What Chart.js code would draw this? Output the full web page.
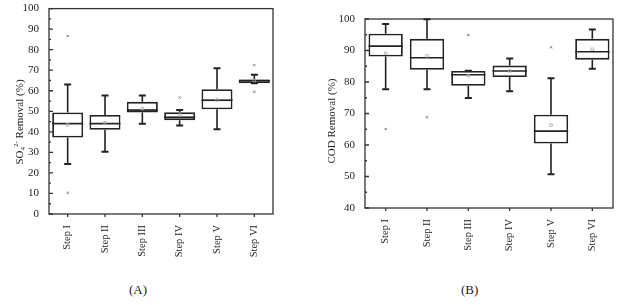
<!DOCTYPE html>
<html>
<head>
<meta charset="utf-8">
<script src="https://cdn.jsdelivr.net/npm/chart.js@4.4.0/dist/chart.umd.min.js"></script>
<style>
  body { margin: 0; background: #fff; width: 618px; height: 305px; position: relative; overflow: hidden; }
  .box { position: absolute; top: 0; }
  .panel { position: absolute; top: 282px; font: 13px "Liberation Serif", serif; color: #222; }
</style>
</head>
<body>
<div class="box" style="left:0;width:310px;height:260px"><canvas id="chartA"></canvas></div>
<div class="box" style="left:310px;width:308px;height:260px"><canvas id="chartB"></canvas></div>
<div class="panel" style="left:129px">(A)</div>
<div class="panel" style="left:461px">(B)</div>
<script>
// 공통 카테고리
const labels = ['Step I', 'Step II', 'Step III', 'Step IV', 'Step V', 'Step VI'];

// (A) SO4 제거율
const so4Min = [24.4, 30.3, 43.9, 43.1, 41.3, 63.6];
const so4Q1 = [37.2, 41.0, 49.4, 45.7, 51.0, 63.6];
const so4Median = [44.0, 44.0, 50.6, 47.1, 55.4, 64.9];
const so4Q3 = [49.4, 48.2, 54.6, 49.5, 60.7, 65.5];
const so4Max = [63.0, 57.7, 57.7, 50.6, 71.0, 67.8];
const so4Mean = [43.4, 44.4, 51.3, 48.2, 55.5, 65.0];
const so4Outliers = [[86.7, 10.3], [], [], [56.7], [], [72.4, 59.5]];
const so4Ticks = [0, 10, 20, 30, 40, 50, 60, 70, 80, 90, 100];

// (B) COD 제거율
const codMin = [77.7, 77.7, 74.9, 77.1, 50.7, 84.2];
const codQ1 = [88.1, 83.9, 78.8, 81.6, 60.5, 87.1];
const codMedian = [91.4, 87.7, 82.3, 83.5, 64.4, 89.6];
const codQ3 = [95.3, 93.7, 83.5, 85.2, 69.6, 93.7];
const codMax = [98.4, 99.9, 83.6, 87.5, 81.2, 96.7];
const codMean = [89.1, 88.3, 82.0, 83.5, 66.3, 90.4];
const codOutliers = [[65.1], [68.8], [94.9], [], [91.0], []];
const codTicks = [40, 50, 60, 70, 80, 90, 100];

const ink = '#222';
const serif = '"Liberation Serif", "Times New Roman", serif';

// 박스플롯 수염, 중앙값, 테두리, 눈금 그리기
const boxPlugin = {
  id: 'boxPlugin',
  afterDatasetDraw(chart, args) {
    const o = chart.options.plugins.boxPlugin;
    if (args.index !== 2) return;
    const ctx = chart.ctx;
    const y = chart.scales.y;
    ctx.save();
    ctx.strokeStyle = ink;
    args.meta.data.forEach((bar, i) => {
      const x = bar.x, hw = bar.width / 2;
      ctx.lineWidth = 1.6;
      ctx.beginPath();
      ctx.moveTo(x, y.getPixelForValue(o.q3[i]));
      ctx.lineTo(x, y.getPixelForValue(o.max[i]));
      ctx.moveTo(x, y.getPixelForValue(o.q1[i]));
      ctx.lineTo(x, y.getPixelForValue(o.min[i]));
      ctx.stroke();
      ctx.lineWidth = 2;
      ctx.beginPath();
      [o.max[i], o.min[i]].forEach(v => {
        const py = y.getPixelForValue(v);
        ctx.moveTo(x - 3.5, py);
        ctx.lineTo(x + 3.5, py);
      });
      ctx.stroke();
      ctx.lineWidth = 1.7;
      ctx.beginPath();
      const my = y.getPixelForValue(o.median[i]);
      ctx.moveTo(x - hw, my);
      ctx.lineTo(x + hw, my);
      ctx.stroke();
    });
    ctx.restore();
  },
  afterDraw(chart) {
    const o = chart.options.plugins.boxPlugin;
    const ctx = chart.ctx;
    const a = chart.chartArea;
    const y = chart.scales.y, x = chart.scales.x;
    ctx.save();
    ctx.strokeStyle = '#333';
    ctx.lineWidth = 1.3;
    ctx.strokeRect(a.left, a.top, a.right - a.left, a.bottom - a.top);
    // 안쪽 눈금
    ctx.beginPath();
    o.ticks.forEach((t, i) => {
      const py = y.getPixelForValue(t);
      ctx.moveTo(a.left, py);
      ctx.lineTo(a.left + 4, py);
      if (i < o.ticks.length - 1) {
        const pm = y.getPixelForValue(t + (o.ticks[1] - o.ticks[0]) / 2);
        ctx.moveTo(a.left, pm);
        ctx.lineTo(a.left + 2, pm);
      }
    });
    labels.forEach((l, i) => {
      const px = x.getPixelForValue(i);
      ctx.moveTo(px, a.bottom);
      ctx.lineTo(px, a.bottom + 3);
    });
    ctx.stroke();
    // y축 제목
    ctx.fillStyle = ink;
    ctx.translate(o.titleX, o.titleY);
    ctx.rotate(-Math.PI / 2);
    ctx.textBaseline = 'middle';
    let total = 0;
    o.title.forEach(p => { ctx.font = p.size + 'px ' + serif; total += ctx.measureText(p.text).width; });
    let cx = -total / 2;
    o.title.forEach(p => {
      ctx.font = p.size + 'px ' + serif;
      ctx.fillText(p.text, cx, p.dy || 0);
      cx += ctx.measureText(p.text).width;
    });
    ctx.restore();
  }
};

function makeBoxChart(id, s) {
  const outlierPoints = [];
  s.outliers.forEach((list, i) => list.forEach(v => outlierPoints.push({ x: labels[i], y: v })));
  return new Chart(document.getElementById(id), {
    type: 'bar',
    data: {
      labels: labels,
      datasets: [{
        type: 'line',
        data: s.mean,
        showLine: false,
        pointStyle: 'rect',
        pointRadius: 1.8,
        pointBorderWidth: 0.8,
        pointBorderColor: '#aaa',
        pointBackgroundColor: 'rgba(255,255,255,0)'
      }, {
        type: 'line',
        data: outlierPoints,
        showLine: false,
        pointStyle: 'crossRot',
        pointRadius: 1.5,
        pointBorderWidth: 1,
        pointBorderColor: '#777'
      }, {
        data: labels.map((l, i) => [s.q1[i], s.q3[i]]),
        backgroundColor: '#fff',
        borderColor: ink,
        borderWidth: 1.8,
        borderSkipped: false,
        categoryPercentage: 1,
        barPercentage: 0.83
      }]
    },
    options: {
      responsive: false,
      animation: false,
      layout: { padding: s.padding },
      plugins: {
        legend: { display: false },
        tooltip: { enabled: false },
        boxPlugin: {
          q1: s.q1, q3: s.q3, min: s.min, max: s.max, median: s.median,
          ticks: s.ticks, title: s.title, titleX: s.titleX, titleY: s.titleY
        }
      },
      scales: {
        x: {
          grid: { display: false },
          border: { display: false },
          ticks: { color: ink, font: { family: serif, size: 10.5 }, minRotation: 90, maxRotation: 90, padding: 3 },
          afterFit: sc => { sc.height = s.xHeight; }
        },
        y: {
          min: s.ticks[0],
          max: s.ticks[s.ticks.length - 1],
          grid: { display: false },
          border: { display: false },
          ticks: { stepSize: 10, color: ink, font: { family: serif, size: 11 }, padding: 2 },
          afterFit: sc => { sc.width = s.yWidth; }
        }
      }
    },
    plugins: [boxPlugin]
  });
}

const canvasA = document.getElementById('chartA');
canvasA.width = 310; canvasA.height = 260;
const canvasB = document.getElementById('chartB');
canvasB.width = 308; canvasB.height = 260;

makeBoxChart('chartA', {
  min: so4Min, q1: so4Q1, median: so4Median, q3: so4Q3, max: so4Max, mean: so4Mean, outliers: so4Outliers,
  ticks: so4Ticks,
  padding: { top: 6, right: 37, left: 0, bottom: 0 },
  yWidth: 49, xHeight: 46,
  titleX: 20, titleY: 122,
  title: [{ text: 'SO', size: 11 }, { text: '4', size: 7, dy: 3 }, { text: '2-', size: 7, dy: -4 }, { text: ' Removal (%)', size: 11 }]
});

makeBoxChart('chartB', {
  min: codMin, q1: codQ1, median: codMedian, q3: codQ3, max: codMax, mean: codMean, outliers: codOutliers,
  ticks: codTicks,
  padding: { top: 19, right: 5, left: 0, bottom: 0 },
  yWidth: 55, xHeight: 52,
  titleX: 22, titleY: 121,
  title: [{ text: 'COD Removal (%)', size: 11 }]
});
</script>
</body>
</html>
